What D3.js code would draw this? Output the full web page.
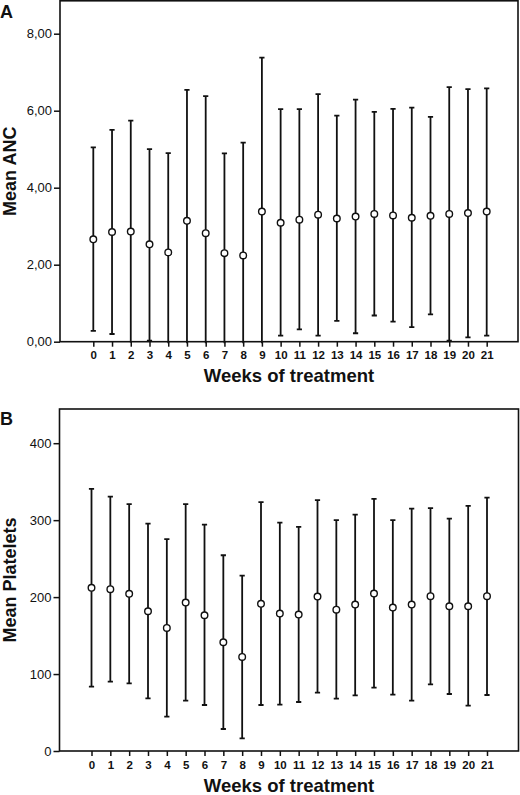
<!DOCTYPE html>
<html>
<head>
<meta charset="utf-8">
<script src="https://cdn.jsdelivr.net/npm/d3@7"></script>
<style>
html,body{margin:0;padding:0;background:#fff;}
svg{display:block;}
text{font-family:"Liberation Sans",Arial,Helvetica,sans-serif;fill:#111;}
</style>
</head>
<body>
<svg id="chart" width="520" height="795"></svg>
<script>
// ---- data ----
const weeks = [0,1,2,3,4,5,6,7,8,9,10,11,12,13,14,15,16,17,18,19,20,21];

const ancMean  = [2.66,2.85,2.86,2.53,2.32,3.14,2.82,2.30,2.24,3.38,3.09,3.17,3.30,3.20,3.25,3.32,3.28,3.22,3.27,3.32,3.34,3.38];
const ancUpper = [5.05,5.50,5.74,5.00,4.90,6.54,6.38,4.89,5.17,7.38,6.04,6.04,6.43,5.87,6.29,5.97,6.05,6.08,5.84,6.61,6.56,6.58];
const ancLower = [0.28,0.20,-0.02,0.03,-0.26,-0.26,-0.74,-0.29,-0.69,-0.62,0.16,0.32,0.16,0.54,0.22,0.68,0.52,0.38,0.71,0.03,0.11,0.16];
const ancTicks = [0,2,4,6,8];
const ancTickLabels = ["0,00","2,00","4,00","6,00","8,00"];

const pltMean  = [212.0,210.3,204.2,181.6,160.0,192.9,176.4,141.3,122.2,191.2,178.6,177.3,200.7,183.7,190.3,204.6,186.4,190.3,201.2,188.1,188.1,201.2];
const pltUpper = [340.7,330.7,320.8,295.6,275.3,320.8,294.3,254.4,228.0,323.4,296.9,291.3,326.0,300.0,307.3,327.7,300.0,315.1,315.6,302.1,318.6,329.4];
const pltLower = [83.6,90.1,88.0,68.5,44.6,65.4,59.8,28.6,16.5,59.8,60.2,63.7,75.8,68.0,72.4,82.3,73.2,65.4,86.7,74.1,58.9,72.8];
const pltTicks = [0,100,200,300,400];
const pltTickLabels = ["0","100","200","300","400"];

const panelLetters = ["A","B"];
const yTitles = ["Mean ANC","Mean Platelets"];
const xTitle = "Weeks of treatment";

// ---- drawing ----
const svg = d3.select("#chart");

function drawPanel(cfg){
  const g = svg.append("g");
  const x = d3.scaleLinear().domain([0,21]).range([cfg.x0, cfg.x21]);
  const y = d3.scaleLinear().domain([cfg.yDomain[0], cfg.yDomain[1]]).range([cfg.bottom, cfg.tickTopY]);
  const clipId = "clip" + cfg.letter;

  svg.append("clipPath").attr("id", clipId)
    .append("rect")
    .attr("x", cfg.left).attr("y", cfg.top)
    .attr("width", cfg.right - cfg.left).attr("height", cfg.bottom - cfg.top + 1.5);

  // frame
  g.append("rect")
    .attr("x", cfg.left).attr("y", cfg.top)
    .attr("width", cfg.right - cfg.left).attr("height", cfg.bottom - cfg.top)
    .attr("fill", "none").attr("stroke", "#111").attr("stroke-width", 1.6);

  // y axis
  const yAxis = d3.axisLeft(y).tickValues(cfg.ticks)
    .tickFormat((d,i) => cfg.tickLabels[i]).tickSize(6).tickPadding(2);
  const ya = g.append("g").attr("transform", `translate(${cfg.left},0)`).call(yAxis);
  ya.select(".domain").remove();
  ya.selectAll("line").attr("stroke", "#111").attr("stroke-width", 1.5);
  ya.selectAll("text").style("font-size", "13px").attr("fill", "#111");

  // x axis
  const xAxis = d3.axisBottom(x).tickValues(weeks).tickSize(5).tickPadding(4.5);
  const xa = g.append("g").attr("transform", `translate(0,${cfg.bottom})`).call(xAxis);
  xa.select(".domain").remove();
  xa.selectAll("line").attr("stroke", "#111").attr("stroke-width", 1.5);
  xa.selectAll("text").style("font-size", "11.5px").style("font-weight", "bold").attr("fill", "#111");

  // error bars
  const bars = g.append("g").attr("clip-path", `url(#${clipId})`);
  const idx = d3.range(weeks.length);
  bars.selectAll("line.bar").data(idx).join("line").attr("class","bar")
    .attr("x1", i => x(weeks[i])).attr("x2", i => x(weeks[i]))
    .attr("y1", i => y(cfg.upper[i])).attr("y2", i => y(cfg.lower[i]))
    .attr("stroke", "#111").attr("stroke-width", 1.8);
  bars.selectAll("line.capU").data(idx).join("line").attr("class","capU")
    .attr("x1", i => x(weeks[i]) - 2.6).attr("x2", i => x(weeks[i]) + 2.6)
    .attr("y1", i => y(cfg.upper[i])).attr("y2", i => y(cfg.upper[i]))
    .attr("stroke", "#111").attr("stroke-width", 1.8);
  bars.selectAll("line.capL").data(idx.filter(i => cfg.lower[i] >= 0)).join("line").attr("class","capL")
    .attr("x1", i => x(weeks[i]) - 2.6).attr("x2", i => x(weeks[i]) + 2.6)
    .attr("y1", i => y(cfg.lower[i])).attr("y2", i => y(cfg.lower[i]))
    .attr("stroke", "#111").attr("stroke-width", 1.8);
  bars.selectAll("circle").data(idx).join("circle")
    .attr("cx", i => x(weeks[i])).attr("cy", i => y(cfg.mean[i]))
    .attr("r", 3.3).attr("fill", "#fff").attr("stroke", "#111").attr("stroke-width", 1.4);

  // titles
  g.append("text").attr("x", (cfg.left + cfg.right)/2).attr("y", cfg.bottom + 40.5)
    .attr("text-anchor", "middle").style("font-size", "18.5px").style("font-weight", "bold")
    .text(xTitle);
  g.append("text")
    .attr("transform", `translate(15.5,${(cfg.top + cfg.bottom)/2}) rotate(-90)`)
    .attr("text-anchor", "middle").style("font-size", "18px").style("font-weight", "bold")
    .text(cfg.yTitle);
  g.append("text").attr("x", 0).attr("y", cfg.letterY)
    .style("font-size", "18px").style("font-weight", "bold").text(cfg.letter);
}

drawPanel({
  letter: panelLetters[0], letterY: 17.5, yTitle: yTitles[0],
  left: 60, right: 518, top: 0.8, bottom: 341.7,
  x0: 93.3, x21: 486.7,
  yDomain: [0, 8], tickTopY: 33.7,
  ticks: ancTicks, tickLabels: ancTickLabels,
  mean: ancMean, upper: ancUpper, lower: ancLower
});

drawPanel({
  letter: panelLetters[1], letterY: 424.5, yTitle: yTitles[1],
  left: 59.5, right: 518.5, top: 409, bottom: 751,
  x0: 91.5, x21: 487,
  yDomain: [0, 400], tickTopY: 443.2,
  ticks: pltTicks, tickLabels: pltTickLabels,
  mean: pltMean, upper: pltUpper, lower: pltLower
});
</script>
</body>
</html>
